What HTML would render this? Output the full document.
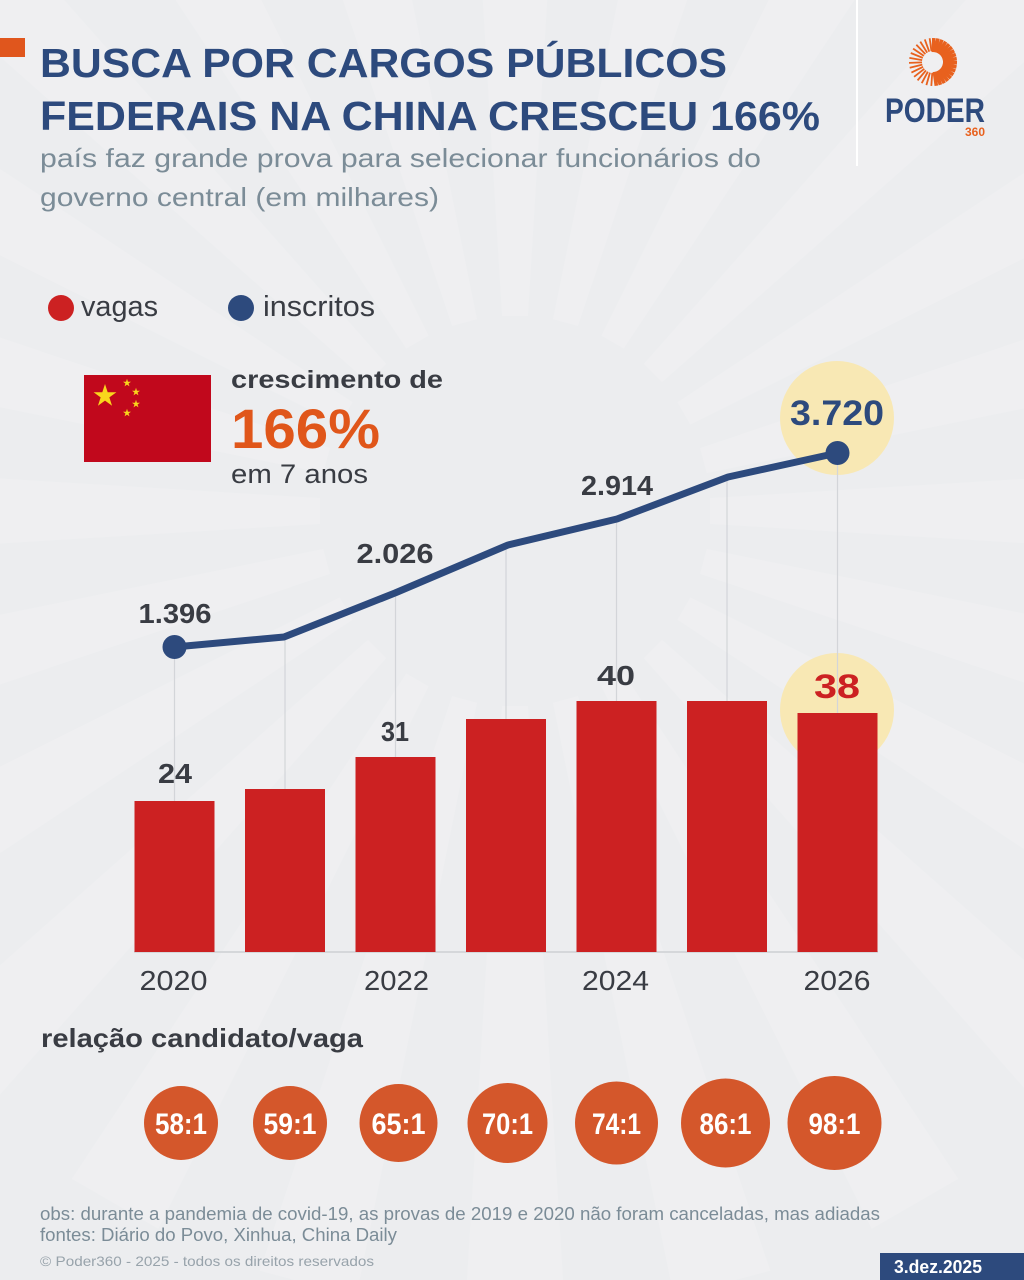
<!DOCTYPE html>
<html><head><meta charset="utf-8"><style>
html,body{margin:0;padding:0;background:#ecedef;}
svg{display:block;}
text{font-family:"Liberation Sans",Arial,sans-serif;}
</style></head><body>
<svg width="1024" height="1280" viewBox="0 0 1024 1280" xmlns="http://www.w3.org/2000/svg">
<rect width="1024" height="1280" fill="#ecedef"/>
<!-- background rays -->
<g transform="translate(515,511)" fill="#ffffff" opacity="0.16">
 <polygon points="-13,-195 13,-195 50,-800 -50,-800" transform="rotate(0)"/>
 <polygon points="-13,-195 13,-195 50,-800 -50,-800" transform="rotate(15)"/>
 <polygon points="-13,-195 13,-195 50,-800 -50,-800" transform="rotate(30)"/>
 <polygon points="-13,-195 13,-195 50,-800 -50,-800" transform="rotate(45)"/>
 <polygon points="-13,-195 13,-195 50,-800 -50,-800" transform="rotate(60)"/>
 <polygon points="-13,-195 13,-195 50,-800 -50,-800" transform="rotate(75)"/>
 <polygon points="-13,-195 13,-195 50,-800 -50,-800" transform="rotate(90)"/>
 <polygon points="-13,-195 13,-195 50,-800 -50,-800" transform="rotate(105)"/>
 <polygon points="-13,-195 13,-195 50,-800 -50,-800" transform="rotate(120)"/>
 <polygon points="-13,-195 13,-195 50,-800 -50,-800" transform="rotate(135)"/>
 <polygon points="-13,-195 13,-195 50,-800 -50,-800" transform="rotate(150)"/>
 <polygon points="-13,-195 13,-195 50,-800 -50,-800" transform="rotate(165)"/>
 <polygon points="-13,-195 13,-195 50,-800 -50,-800" transform="rotate(180)"/>
 <polygon points="-13,-195 13,-195 50,-800 -50,-800" transform="rotate(195)"/>
 <polygon points="-13,-195 13,-195 50,-800 -50,-800" transform="rotate(210)"/>
 <polygon points="-13,-195 13,-195 50,-800 -50,-800" transform="rotate(225)"/>
 <polygon points="-13,-195 13,-195 50,-800 -50,-800" transform="rotate(240)"/>
 <polygon points="-13,-195 13,-195 50,-800 -50,-800" transform="rotate(255)"/>
 <polygon points="-13,-195 13,-195 50,-800 -50,-800" transform="rotate(270)"/>
 <polygon points="-13,-195 13,-195 50,-800 -50,-800" transform="rotate(285)"/>
 <polygon points="-13,-195 13,-195 50,-800 -50,-800" transform="rotate(300)"/>
 <polygon points="-13,-195 13,-195 50,-800 -50,-800" transform="rotate(315)"/>
 <polygon points="-13,-195 13,-195 50,-800 -50,-800" transform="rotate(330)"/>
 <polygon points="-13,-195 13,-195 50,-800 -50,-800" transform="rotate(345)"/>
</g>

<!-- header -->
<rect x="0" y="38" width="25" height="19" fill="#e0561d"/>
<text x="40" y="77" font-size="41" font-weight="bold" fill="#2d4a7d" textLength="687" lengthAdjust="spacingAndGlyphs">BUSCA POR CARGOS PÚBLICOS</text>
<text x="40" y="130" font-size="41" font-weight="bold" fill="#2d4a7d" textLength="780" lengthAdjust="spacingAndGlyphs">FEDERAIS NA CHINA CRESCEU 166%</text>
<text x="40" y="167" font-size="26" fill="#7b8c97" textLength="721" lengthAdjust="spacingAndGlyphs">país faz grande prova para selecionar funcionários do</text>
<text x="40" y="206" font-size="26" fill="#7b8c97" textLength="399" lengthAdjust="spacingAndGlyphs">governo central (em milhares)</text>

<!-- logo -->
<line x1="857" y1="0" x2="857" y2="166" stroke="#ffffff" stroke-width="2"/>
<g transform="translate(933,62)" stroke="#e8611e" stroke-linecap="butt">
 <g stroke-width="3.6">
  <line x1="0" y1="-10" x2="0" y2="-24" transform="rotate(2)"/>
  <line x1="0" y1="-10" x2="0" y2="-24" transform="rotate(12)"/>
  <line x1="0" y1="-10" x2="0" y2="-24" transform="rotate(22)"/>
  <line x1="0" y1="-10" x2="0" y2="-24" transform="rotate(32)"/>
  <line x1="0" y1="-10" x2="0" y2="-24" transform="rotate(42)"/>
  <line x1="0" y1="-10" x2="0" y2="-24" transform="rotate(52)"/>
  <line x1="0" y1="-10" x2="0" y2="-24" transform="rotate(62)"/>
  <line x1="0" y1="-10" x2="0" y2="-24" transform="rotate(72)"/>
  <line x1="0" y1="-10" x2="0" y2="-24" transform="rotate(82)"/>
  <line x1="0" y1="-10" x2="0" y2="-24" transform="rotate(92)"/>
  <line x1="0" y1="-10" x2="0" y2="-24" transform="rotate(102)"/>
  <line x1="0" y1="-10" x2="0" y2="-24" transform="rotate(112)"/>
  <line x1="0" y1="-10" x2="0" y2="-24" transform="rotate(122)"/>
  <line x1="0" y1="-10" x2="0" y2="-24" transform="rotate(132)"/>
  <line x1="0" y1="-10" x2="0" y2="-24" transform="rotate(142)"/>
  <line x1="0" y1="-10" x2="0" y2="-24" transform="rotate(152)"/>
  <line x1="0" y1="-10" x2="0" y2="-24" transform="rotate(162)"/>
  <line x1="0" y1="-10" x2="0" y2="-24" transform="rotate(172)"/>
 </g>
 <g stroke-width="1.8">
  <line x1="0" y1="-11" x2="0" y2="-24" transform="rotate(184)"/>
  <line x1="0" y1="-11" x2="0" y2="-24" transform="rotate(196)"/>
  <line x1="0" y1="-11" x2="0" y2="-24" transform="rotate(208)"/>
  <line x1="0" y1="-11" x2="0" y2="-24" transform="rotate(220)"/>
  <line x1="0" y1="-11" x2="0" y2="-24" transform="rotate(232)"/>
  <line x1="0" y1="-11" x2="0" y2="-24" transform="rotate(244)"/>
  <line x1="0" y1="-11" x2="0" y2="-24" transform="rotate(256)"/>
  <line x1="0" y1="-11" x2="0" y2="-24" transform="rotate(268)"/>
  <line x1="0" y1="-11" x2="0" y2="-24" transform="rotate(280)"/>
  <line x1="0" y1="-11" x2="0" y2="-24" transform="rotate(292)"/>
  <line x1="0" y1="-11" x2="0" y2="-24" transform="rotate(304)"/>
  <line x1="0" y1="-11" x2="0" y2="-24" transform="rotate(316)"/>
  <line x1="0" y1="-11" x2="0" y2="-24" transform="rotate(328)"/>
  <line x1="0" y1="-11" x2="0" y2="-24" transform="rotate(340)"/>
  <line x1="0" y1="-11" x2="0" y2="-24" transform="rotate(352)"/>
 </g>
</g>
<text x="885" y="122" font-size="34" font-weight="bold" fill="#2d4a7d" textLength="100" lengthAdjust="spacingAndGlyphs">PODER</text>
<text x="965" y="136" font-size="12" font-weight="bold" fill="#e8611e" textLength="20" lengthAdjust="spacingAndGlyphs">360</text>

<!-- legend -->
<circle cx="61" cy="308" r="13" fill="#cc2122"/>
<text x="81" y="316" font-size="29" fill="#393c43" textLength="77" lengthAdjust="spacingAndGlyphs">vagas</text>
<circle cx="241" cy="308" r="13" fill="#2d4a7d"/>
<text x="263" y="316" font-size="29" fill="#393c43" textLength="112" lengthAdjust="spacingAndGlyphs">inscritos</text>

<!-- flag -->
<rect x="84" y="375" width="127" height="87" fill="#c1081c"/>
<g fill="#f9d71c">
 <polygon transform="translate(105,396) scale(12)" points="0,-1 0.2245,-0.309 0.951,-0.309 0.363,0.118 0.588,0.809 0,0.382 -0.588,0.809 -0.363,0.118 -0.951,-0.309 -0.2245,-0.309"/>
 <polygon transform="translate(127,383) scale(4.2)" points="0,-1 0.2245,-0.309 0.951,-0.309 0.363,0.118 0.588,0.809 0,0.382 -0.588,0.809 -0.363,0.118 -0.951,-0.309 -0.2245,-0.309"/>
 <polygon transform="translate(136,392) scale(4.2)" points="0,-1 0.2245,-0.309 0.951,-0.309 0.363,0.118 0.588,0.809 0,0.382 -0.588,0.809 -0.363,0.118 -0.951,-0.309 -0.2245,-0.309"/>
 <polygon transform="translate(136,404) scale(4.2)" points="0,-1 0.2245,-0.309 0.951,-0.309 0.363,0.118 0.588,0.809 0,0.382 -0.588,0.809 -0.363,0.118 -0.951,-0.309 -0.2245,-0.309"/>
 <polygon transform="translate(127,413) scale(4.2)" points="0,-1 0.2245,-0.309 0.951,-0.309 0.363,0.118 0.588,0.809 0,0.382 -0.588,0.809 -0.363,0.118 -0.951,-0.309 -0.2245,-0.309"/>
</g>
<text x="231" y="388" font-size="25" font-weight="bold" fill="#393c43" textLength="212" lengthAdjust="spacingAndGlyphs">crescimento de</text>
<text x="231" y="448" font-size="56" font-weight="bold" fill="#e0561a" textLength="149" lengthAdjust="spacingAndGlyphs">166%</text>
<text x="231" y="483" font-size="27" fill="#393c43" textLength="137" lengthAdjust="spacingAndGlyphs">em 7 anos</text>

<!-- highlight circles -->
<circle cx="837" cy="418" r="57" fill="#f8e8b4"/>
<circle cx="837" cy="710" r="57" fill="#f8e8b4"/>

<!-- vertical guide lines -->
<g stroke="#d3d5d9" stroke-width="1.2">
 <line x1="174.5" y1="647" x2="174.5" y2="801"/>
 <line x1="285" y1="637" x2="285" y2="789"/>
 <line x1="395.5" y1="593" x2="395.5" y2="757"/>
 <line x1="506" y1="545" x2="506" y2="719"/>
 <line x1="616.5" y1="519" x2="616.5" y2="701"/>
 <line x1="727" y1="477" x2="727" y2="701"/>
 <line x1="837.5" y1="453" x2="837.5" y2="713"/>
</g>

<!-- bars -->
<line x1="134" y1="952" x2="878" y2="952" stroke="#d5d7da" stroke-width="2"/>
<g fill="#cc2122">
 <rect x="134.5" y="801" width="80" height="151"/>
 <rect x="245" y="789" width="80" height="163"/>
 <rect x="355.5" y="757" width="80" height="195"/>
 <rect x="466" y="719" width="80" height="233"/>
 <rect x="576.5" y="701" width="80" height="251"/>
 <rect x="687" y="701" width="80" height="251"/>
 <rect x="797.5" y="713" width="80" height="239"/>
</g>

<!-- line series -->
<polyline points="174.5,647 284,637 395,593 508,545 617,519 728,477 837.5,453" fill="none" stroke="#2d4a7d" stroke-width="7" stroke-linejoin="round" stroke-linecap="round"/>
<circle cx="174.5" cy="647" r="12" fill="#2d4a7d"/>
<circle cx="837.5" cy="453" r="12" fill="#2d4a7d"/>

<!-- value labels -->
<g font-weight="bold" fill="#393c43" text-anchor="middle" font-size="28">
 <text x="175" y="623" textLength="73" lengthAdjust="spacingAndGlyphs">1.396</text>
 <text x="395" y="563" textLength="77" lengthAdjust="spacingAndGlyphs">2.026</text>
 <text x="617" y="495" textLength="72" lengthAdjust="spacingAndGlyphs">2.914</text>
 <text x="175" y="783" textLength="34" lengthAdjust="spacingAndGlyphs">24</text>
 <text x="395" y="741" textLength="28" lengthAdjust="spacingAndGlyphs">31</text>
 <text x="616" y="685" textLength="38" lengthAdjust="spacingAndGlyphs">40</text>
</g>
<text x="837" y="425" font-size="35" font-weight="bold" fill="#2d4a7d" text-anchor="middle" textLength="94" lengthAdjust="spacingAndGlyphs">3.720</text>
<text x="837" y="698" font-size="34" font-weight="bold" fill="#cc2122" text-anchor="middle" textLength="46" lengthAdjust="spacingAndGlyphs">38</text>

<!-- x axis labels -->
<g font-size="28" fill="#393c43" text-anchor="middle">
 <text x="173.5" y="990" textLength="68" lengthAdjust="spacingAndGlyphs">2020</text>
 <text x="396.5" y="990" textLength="65" lengthAdjust="spacingAndGlyphs">2022</text>
 <text x="615.5" y="990" textLength="67" lengthAdjust="spacingAndGlyphs">2024</text>
 <text x="837" y="990" textLength="67" lengthAdjust="spacingAndGlyphs">2026</text>
</g>

<!-- ratio section -->
<text x="41" y="1047" font-size="26" font-weight="bold" fill="#393c43" textLength="322" lengthAdjust="spacingAndGlyphs">relação candidato/vaga</text>
<g fill="#d4572b">
 <circle cx="181" cy="1123" r="37"/>
 <circle cx="290" cy="1123" r="37"/>
 <circle cx="398.5" cy="1123" r="39"/>
 <circle cx="507.5" cy="1123" r="40"/>
 <circle cx="616.5" cy="1123" r="41.5"/>
 <circle cx="725.5" cy="1123" r="44.5"/>
 <circle cx="834.5" cy="1123" r="47"/>
</g>
<g font-size="30" font-weight="bold" fill="#ffffff" text-anchor="middle">
 <text x="181" y="1134" textLength="52" lengthAdjust="spacingAndGlyphs">58:1</text>
 <text x="290" y="1134" textLength="53" lengthAdjust="spacingAndGlyphs">59:1</text>
 <text x="398.5" y="1134" textLength="54" lengthAdjust="spacingAndGlyphs">65:1</text>
 <text x="507.5" y="1134" textLength="51" lengthAdjust="spacingAndGlyphs">70:1</text>
 <text x="616.5" y="1134" textLength="49" lengthAdjust="spacingAndGlyphs">74:1</text>
 <text x="725.5" y="1134" textLength="52" lengthAdjust="spacingAndGlyphs">86:1</text>
 <text x="834.5" y="1134" textLength="52" lengthAdjust="spacingAndGlyphs">98:1</text>
</g>

<!-- footer -->
<text x="40" y="1220" font-size="18" fill="#7b8c97" textLength="840" lengthAdjust="spacingAndGlyphs">obs: durante a pandemia de covid-19, as provas de 2019 e 2020 não foram canceladas, mas adiadas</text>
<text x="40" y="1241" font-size="18" fill="#7b8c97" textLength="357" lengthAdjust="spacingAndGlyphs">fontes: Diário do Povo, Xinhua, China Daily</text>
<text x="40" y="1266" font-size="14" fill="#98a3ab" textLength="334" lengthAdjust="spacingAndGlyphs">© Poder360 - 2025 - todos os direitos reservados</text>
<rect x="880" y="1253" width="144" height="27" fill="#2d4a7d"/>
<text x="894" y="1273" font-size="18" font-weight="bold" fill="#ffffff" textLength="88" lengthAdjust="spacingAndGlyphs">3.dez.2025</text>
</svg>
</body></html>
